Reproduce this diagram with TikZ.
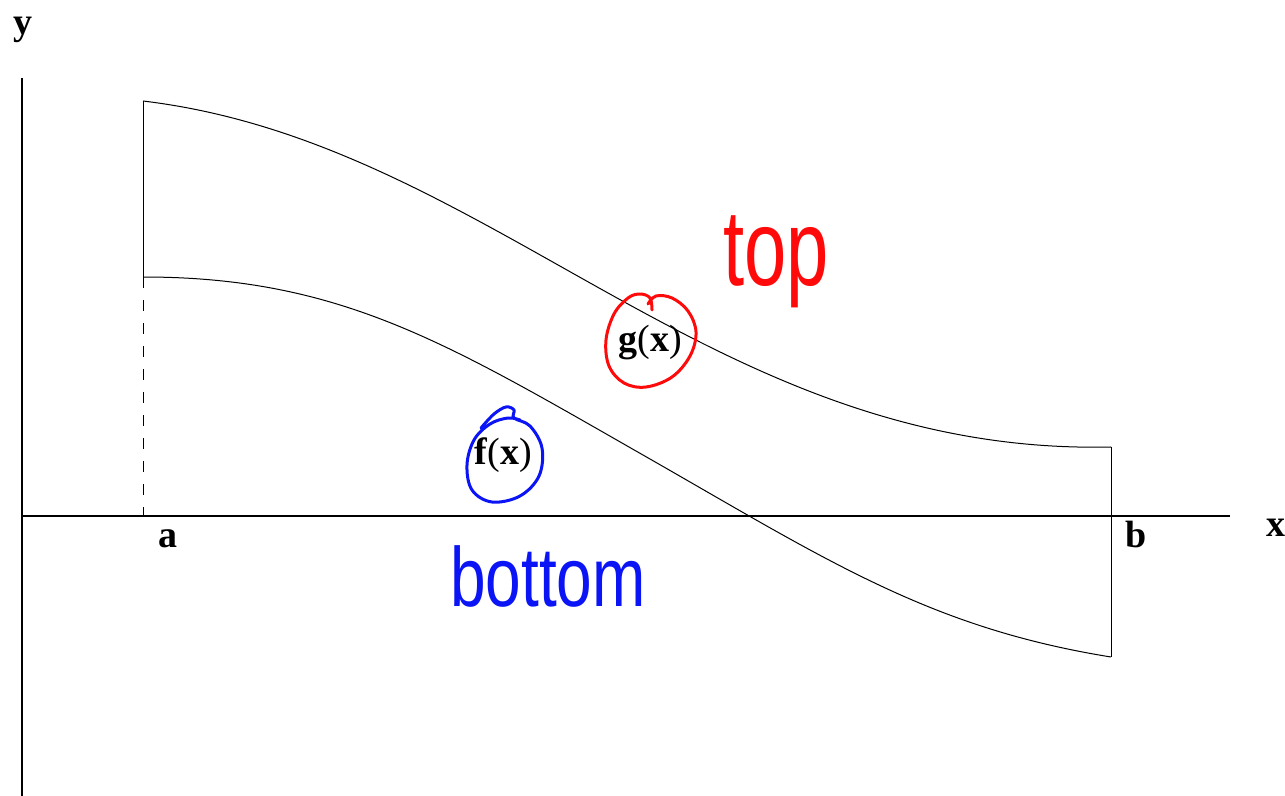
\documentclass[tikz,border=0pt]{standalone}
\usepackage{fontspec}
\setmainfont{Liberation Serif}
\newfontfamily\penfont{Liberation Sans}
\usepackage{xcolor}
\usetikzlibrary{positioning}
\definecolor{ink}{HTML}{000000}
\definecolor{penred}{HTML}{FF0A0A}
\definecolor{penblue}{HTML}{0A14F5}
\tikzset{
  axisline/.style={draw=ink,line width=0.55pt},
  boundary/.style={draw=ink,line width=0.5pt},
  dropline/.style={draw=ink,line width=0.5pt,dash pattern=on 5.5pt off 6pt},
  fcurve/.style={draw=ink,line width=0.5pt},
  axlabel/.style={font=\fontsize{19}{21}\selectfont\bfseries,inner sep=0pt,
                  anchor=base west,text=ink},
  fnlabel/.style={font=\fontsize{19}{21}\selectfont,inner sep=0pt,
                  anchor=base west,text=ink},
  ring/.style={line width=1.5pt,smooth,tension=0.6,line cap=round,line join=round},
  scrawl/.style={font=\penfont\fontsize{40}{40}\selectfont,inner sep=0pt}
}

\begin{document}
\begin{tikzpicture}[x=0.5pt,y=-0.5pt]
    \useasboundingbox (0,0) rectangle (1285,796);
    % axes
    \coordinate (ytop) at (22,78);
    \coordinate (ybot) at (22,796);
    \coordinate (xleft) at (22,516);
    \coordinate (xright) at (1230,516);
    \draw[axisline] (ybot) -- (ytop);
    \draw[axisline] (xleft) -- (xright);
    \node[axlabel] (ylab) at (13,35) {y};
    \node[axlabel] (xlab) at (1266,537) {x};
    \node[axlabel] (alab) at (158,547) {a};
    \node[axlabel] (blab) at (1125,547) {b};
    % region between the curves
    \coordinate (ga) at (143,101);
    \coordinate (gb) at (1111,447);
    \coordinate (fa) at (143,277);
    \coordinate (fm) at (650,459);
    \coordinate (fb) at (1111,657);
    \coordinate (aaxis) at (143,516);
    \draw[fcurve] (ga) .. controls (493,143) and (711,456) .. (gb);
    \draw[fcurve] (fa) .. controls (343,277) and (450,345) .. (fm)
      .. controls (830,562) and (931,628) .. (fb);
    \draw[boundary] (fa) -- (ga);
    \draw[boundary] (gb) -- (fb);
    \draw[dropline] (fa) -- (aaxis);
    % function labels
    \node[fnlabel] (glab) at (618,352) {\textbf{g}(\textbf{x})};
    \node[fnlabel] (flab) at (474,465) {\textbf{f}(\textbf{x})};
    \draw[ring,penred] plot coordinates {(652,310) (650,298) (640,294)
      (628,298) (614,314) (606,340) (609,366) (624,383) (646,387) (672,377)
      (690,356) (696,332) (688,311) (672,298) (656,296) (648,304)};
    \draw[ring,penblue] plot coordinates {(481,428) (494,414) (506,407)
      (514,410) (514,418) (530,426) (542,448) (539,476) (520,496) (492,502)
      (472,490) (467,465) (474,440) (490,424) (508,418) (520,420)};
    \node[scrawl,text=penred] (toplab) at (776,262)
      {\scalebox{0.95}[1.35]{top}};
    \node[scrawl,text=penblue] (botlab) at (548,576)
      {\scalebox{0.8}[1.05]{bottom}};
\end{tikzpicture}
\end{document}
